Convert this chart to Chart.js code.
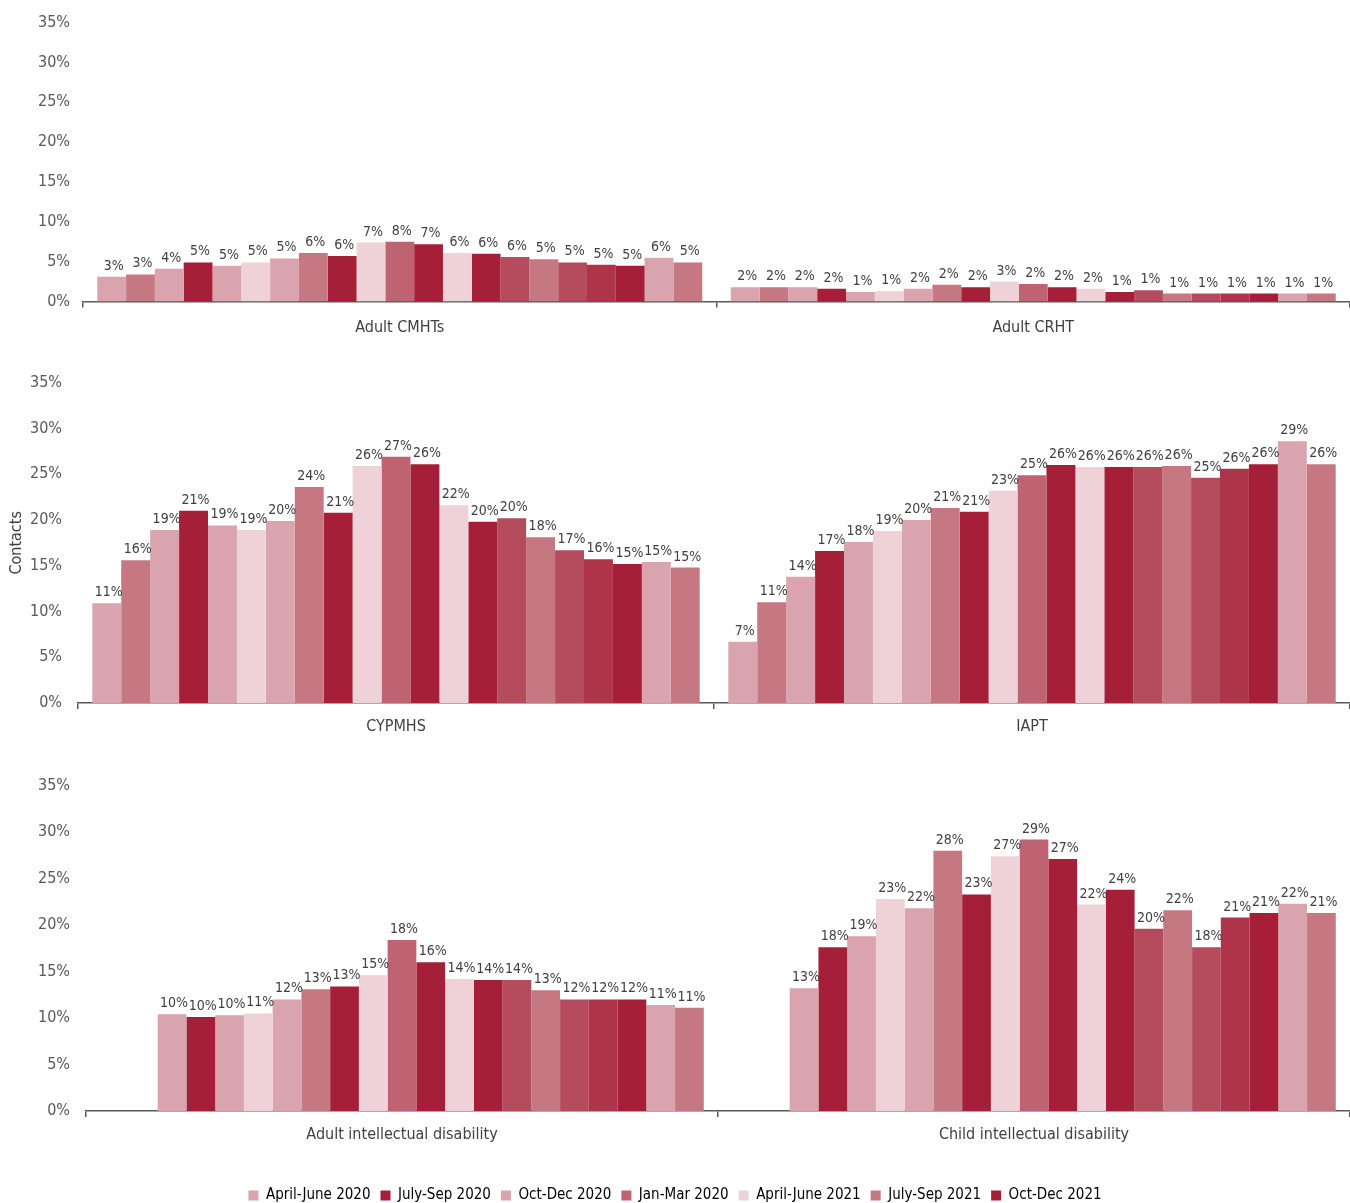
<!DOCTYPE html>
<html>
<head>
<meta charset="utf-8">
<script src="https://cdn.jsdelivr.net/npm/chart.js@4.4.1/dist/chart.umd.min.js"></script>
<style>
  html, body { margin: 0; padding: 0; background: #fff; overflow: hidden; }
  #wrap { position: relative; width: 1350px; height: 1203px; overflow: hidden; }
  canvas { position: absolute; left: 0; }
</style>
</head>
<body>
<div id="wrap">
  <canvas id="c1" width="1350" height="345" style="top:0px"></canvas>
  <canvas id="c2" width="1350" height="400" style="top:345px"></canvas>
  <canvas id="c3" width="1350" height="453" style="top:760px"></canvas>
</div>
<script>
const FONT = "'Liberation Sans Narrow', 'DejaVu Sans Condensed', 'Roboto Condensed', Roboto, sans-serif";

// 21 monthly series, April 2020 - December 2021
const months = ['Apr 2020', 'May 2020', 'Jun 2020', 'Jul 2020', 'Aug 2020', 'Sep 2020', 'Oct 2020',
  'Nov 2020', 'Dec 2020', 'Jan 2021', 'Feb 2021', 'Mar 2021', 'Apr 2021', 'May 2021', 'Jun 2021',
  'Jul 2021', 'Aug 2021', 'Sep 2021', 'Oct 2021', 'Nov 2021', 'Dec 2021'];

const seriesColors = ['#d9a4ad', '#c67882', '#d9a4ad', '#a41f37', '#d9a4ad', '#efd2d7', '#d9a4ad',
  '#c67882', '#a41f37', '#efd2d7', '#bf6272', '#a41f37', '#efd2d7', '#a41f37', '#b54c5e',
  '#c67882', '#b54c5e', '#ad3449', '#a41f37', '#d9a4ad', '#c67882'];

// visible legend row
const legendLabels = ['April-June 2020', 'July-Sep 2020', 'Oct-Dec 2020', 'Jan-Mar 2020',
  'April-June 2021', 'July-Sep 2021', 'Oct-Dec 2021'];
const legendColors = ['#d9a4ad', '#a41f37', '#d9a4ad', '#bf6272', '#efd2d7', '#c67882', '#a41f37'];

const services1 = ['Adult CMHTs', 'Adult CRHT'];
const adultCMHTs = [3.1, 3.4, 4.1, 4.9, 4.5, 4.9, 5.4, 6.1, 5.7, 7.4, 7.5, 7.2, 6.1, 6.0, 5.6, 5.3, 4.9, 4.6, 4.5, 5.5, 4.9];
const adultCRHT = [1.8, 1.8, 1.8, 1.6, 1.2, 1.3, 1.6, 2.1, 1.8, 2.5, 2.2, 1.8, 1.6, 1.2, 1.4, 1.0, 1.0, 1.0, 1.0, 1.0, 1.0];

const services2 = ['CYPMHS', 'IAPT'];
const cypmhs = [10.9, 15.6, 18.9, 21.0, 19.4, 18.9, 19.9, 23.6, 20.8, 25.9, 26.9, 26.1, 21.6, 19.8, 20.2, 18.1, 16.7, 15.7, 15.2, 15.4, 14.8];
const iapt = [6.7, 11.0, 13.8, 16.6, 17.6, 18.8, 20.0, 21.3, 20.9, 23.2, 24.9, 26.0, 25.8, 25.8, 25.8, 25.9, 24.6, 25.6, 26.1, 28.6, 26.1];

const services3 = ['Adult intellectual disability', 'Child intellectual disability'];
const adultID = [null, null, 10.4, 10.1, 10.3, 10.5, 12.0, 13.1, 13.4, 14.6, 18.4, 16.0, 14.2, 14.1, 14.1, 13.0, 12.0, 12.0, 12.0, 11.4, 11.1];
const childID = [null, null, 13.2, 17.6, 18.8, 22.8, 21.8, 28.0, 23.3, 27.4, 29.2, 27.1, 22.2, 23.8, 19.6, 21.6, 17.6, 20.8, 21.3, 22.3, 21.3];

const yTicks = [0, 5, 10, 15, 20, 25, 30, 35];

// percent labels above each bar
const valueLabels = {
  id: 'valueLabels',
  afterDatasetsDraw(chart) {
    const ctx = chart.ctx;
    ctx.save();
    ctx.font = '14px ' + FONT;
    ctx.fillStyle = '#404040';
    ctx.textAlign = 'center';
    ctx.textBaseline = 'alphabetic';
    chart.data.datasets.forEach((ds, i) => {
      chart.getDatasetMeta(i).data.forEach((bar, j) => {
        const v = ds.data[j];
        if (v == null) return;
        ctx.fillText(Math.round(v) + '%', bar.x + 2, bar.y - 7);
      });
    });
    ctx.restore();
  }
};

function makeChart(id, cats, left, right, cfg) {
  const datasets = months.map((m, i) => ({
    label: m,
    data: [left[i], right[i]],
    backgroundColor: seriesColors[i],
    borderWidth: 0,
    barPercentage: 1.0,
    categoryPercentage: 0.955
  }));

  return new Chart(document.getElementById(id), {
    type: 'bar',
    data: { labels: cats, datasets: datasets },
    plugins: [valueLabels],
    options: {
      responsive: false,
      animation: false,
      events: [],
      layout: { padding: { top: cfg.padTop, right: 0, bottom: 0, left: 0 } },
      scales: {
        x: {
          grid: {
            display: true,
            drawOnChartArea: false,
            drawTicks: true,
            tickLength: 6,
            color: '#595959',
            lineWidth: 1.5
          },
          border: { display: true, color: '#595959', width: 1.5 },
          ticks: {
            color: '#404040',
            font: { family: FONT, size: 16 },
            padding: cfg.xPad,
            maxRotation: 0,
            autoSkip: false
          },
          afterFit: s => { s.height = cfg.xHeight; }
        },
        y: {
          min: 0,
          max: 35,
          afterBuildTicks: s => { s.ticks = yTicks.map(v => ({ value: v })); },
          grid: { display: false, drawTicks: false },
          border: { display: false },
          ticks: {
            color: '#595959',
            font: { family: FONT, size: 16 },
            padding: cfg.yPad,
            callback: v => v + '%'
          },
          title: {
            display: !!cfg.yTitle,
            text: cfg.yTitle || '',
            color: '#404040',
            font: { family: FONT, size: 16 },
            padding: { top: 7, bottom: 0 }
          },
          afterFit: s => { s.width = cfg.yWidth; }
        }
      },
      plugins: {
        tooltip: { enabled: false },
        legend: cfg.legend ? {
          display: true,
          position: 'bottom',
          onClick: null,
          labels: {
            color: '#404040',
            font: { family: FONT, size: 15 },
            boxWidth: 10,
            boxHeight: 10,
            padding: 10,
            generateLabels: () => legendLabels.map((t, i) => ({
              text: t,
              fillStyle: legendColors[i],
              strokeStyle: legendColors[i],
              lineWidth: 0,
              hidden: false,
              datasetIndex: i
            }))
          }
        } : { display: false }
      }
    }
  });
}

makeChart('c1', services1, adultCMHTs, adultCRHT, { padTop: 21, xHeight: 43.5, yWidth: 83, yPad: 13, xPad: 11 });
makeChart('c2', services2, cypmhs, iapt, { padTop: 37.7, xHeight: 42, yWidth: 78, yPad: 16, xPad: 8, yTitle: 'Contacts' });
makeChart('c3', services3, adultID, childID, { padTop: 24, xHeight: 67, yWidth: 86, yPad: 16, xPad: 8, legend: true });
</script>
</body>
</html>
